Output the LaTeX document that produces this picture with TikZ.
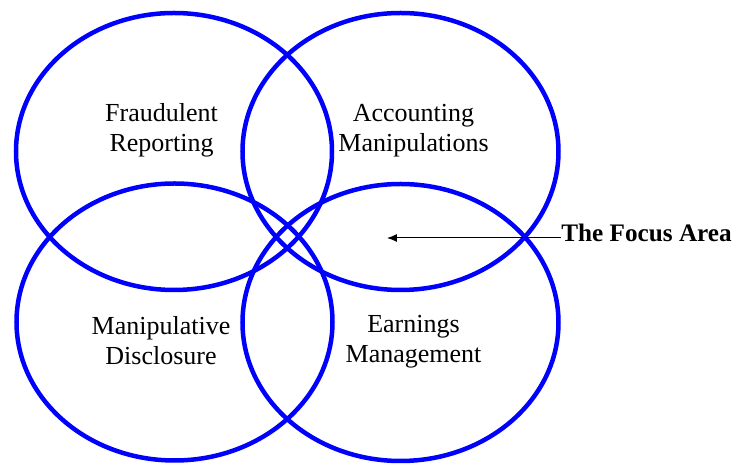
\documentclass[tikz,border=0pt]{standalone}
\usepackage{fontspec}
\setmainfont{Liberation Serif}
\usetikzlibrary{arrows.meta, shapes.geometric}

\begin{document}
\begin{tikzpicture}[
  x=0.5pt, y=-0.5pt,
  every node/.style={font=\fontsize{13}{15}\selectfont, align=center, inner sep=0pt},
  area/.style ={ellipse, draw=blue, line width=2.25pt,
                minimum width=158pt, minimum height=138.5pt},
  pointer/.style={-{Latex[length=5pt,width=4pt]}, line width=0.5pt, black},
]
\useasboundingbox (0,0) rectangle (736,464);

% Four overlapping areas
\node[area] (fr) at (174,151.5) {};
\node[area] (am) at (400.5,151.5) {};
\node[area] (md) at (174.5,322) {};
\node[area] (em) at (400.5,322.5) {};

% Area labels
\node (frlab) at (161.5,130.5) {Fraudulent\\Reporting};
\node (amlab) at (413.5,130.5) {Accounting\\Manipulations};
\node (mdlab) at (161,341) {Manipulative\\Disclosure};
\node (emlab) at (413.5,341.5) {Earnings\\Management};

% Pointer to the focus area
\node[anchor=base west, font=\fontsize{12.6}{15}\selectfont\bfseries]
  (focus) at (561,241.7) {The Focus Area};
\coordinate (tip) at (387,238);
\draw[pointer] (tip -| focus.west) -- (tip);

\end{tikzpicture}
\end{document}
